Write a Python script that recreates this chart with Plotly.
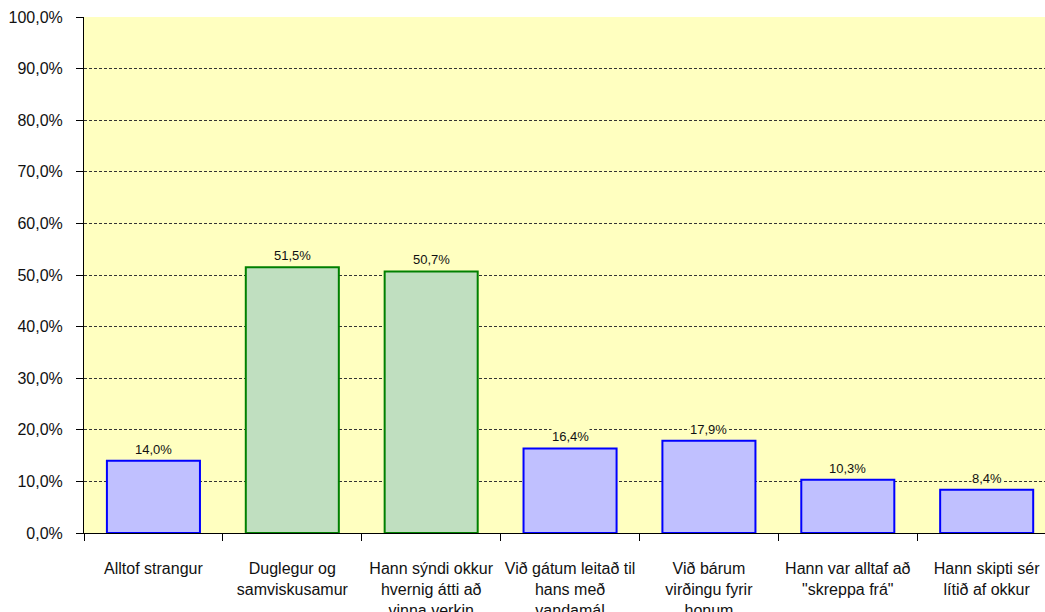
import plotly.graph_objects as go

categories = [
    "Alltof strangur",
    "Duglegur og<br>samviskusamur",
    "Hann sýndi okkur<br>hvernig átti að<br>vinna verkin",
    "Við gátum leitað til<br>hans með<br>vandamál",
    "Við bárum<br>virðingu fyrir<br>honum",
    "Hann var alltaf að<br>\"skreppa frá\"",
    "Hann skipti sér<br>lítið af okkur",
]
values = [14.0, 51.5, 50.7, 16.4, 17.9, 10.3, 8.4]
highlighted = [False, True, True, False, False, False, False]

fracs = [v / 100 for v in values]
fill_colors = ["#C0DFC0" if h else "#C0C0FF" for h in highlighted]
line_colors = ["#008000" if h else "#0000FF" for h in highlighted]

FONT = "Liberation Sans, Arial, sans-serif"
BG = "#FFFFC0"

fig = go.Figure()
fig.add_trace(go.Bar(
    x=categories,
    y=fracs,
    marker=dict(color=fill_colors, line=dict(color=line_colors, width=2)),
    width=0.67,
    hoverinfo="skip",
))

for c, f in zip(categories, fracs):
    fig.add_annotation(
        x=c, y=f, xref="x", yref="y",
        text=f"{f*100:.1f}%".replace(".", ","),
        showarrow=False, yanchor="bottom", yshift=3,
        font=dict(family=FONT, size=13, color="#111111"),
        bgcolor=BG, borderpad=0,
    )

fig.update_layout(
    width=1045, height=612,
    margin=dict(l=84, r=0, t=17, b=79),
    paper_bgcolor="white",
    plot_bgcolor=BG,
    separators=", ",
    showlegend=False,
    font=dict(family=FONT, size=16, color="#111111"),
)
fig.update_xaxes(
    type="category",
    range=[-0.5, 6.42],
    showline=True, linecolor="black", linewidth=1,
    ticks="outside", tickson="boundaries", ticklen=7, tickcolor="black", tickwidth=1,
    ticklabelstandoff=21, tickangle=0, automargin=False,
    tickfont=dict(family=FONT, size=16, color="#111111"),
    showgrid=False,
)
fig.update_yaxes(
    range=[0, 1.0],
    tickvals=[i / 10 for i in range(11)],
    tickformat=".1%",
    showline=True, linecolor="black", linewidth=1,
    ticks="outside", ticklen=7, tickcolor="black", tickwidth=1,
    ticklabelstandoff=10, automargin=False,
    showgrid=True, gridcolor="#333333", gridwidth=1, griddash="3px,2px",
    zeroline=False,
    tickfont=dict(family=FONT, size=16, color="#111111"),
)

fig.write_html(
    "out.html",
    config={"displayModeBar": False},
    post_script="document.body.style.margin='0';document.body.style.overflow='hidden';",
)
